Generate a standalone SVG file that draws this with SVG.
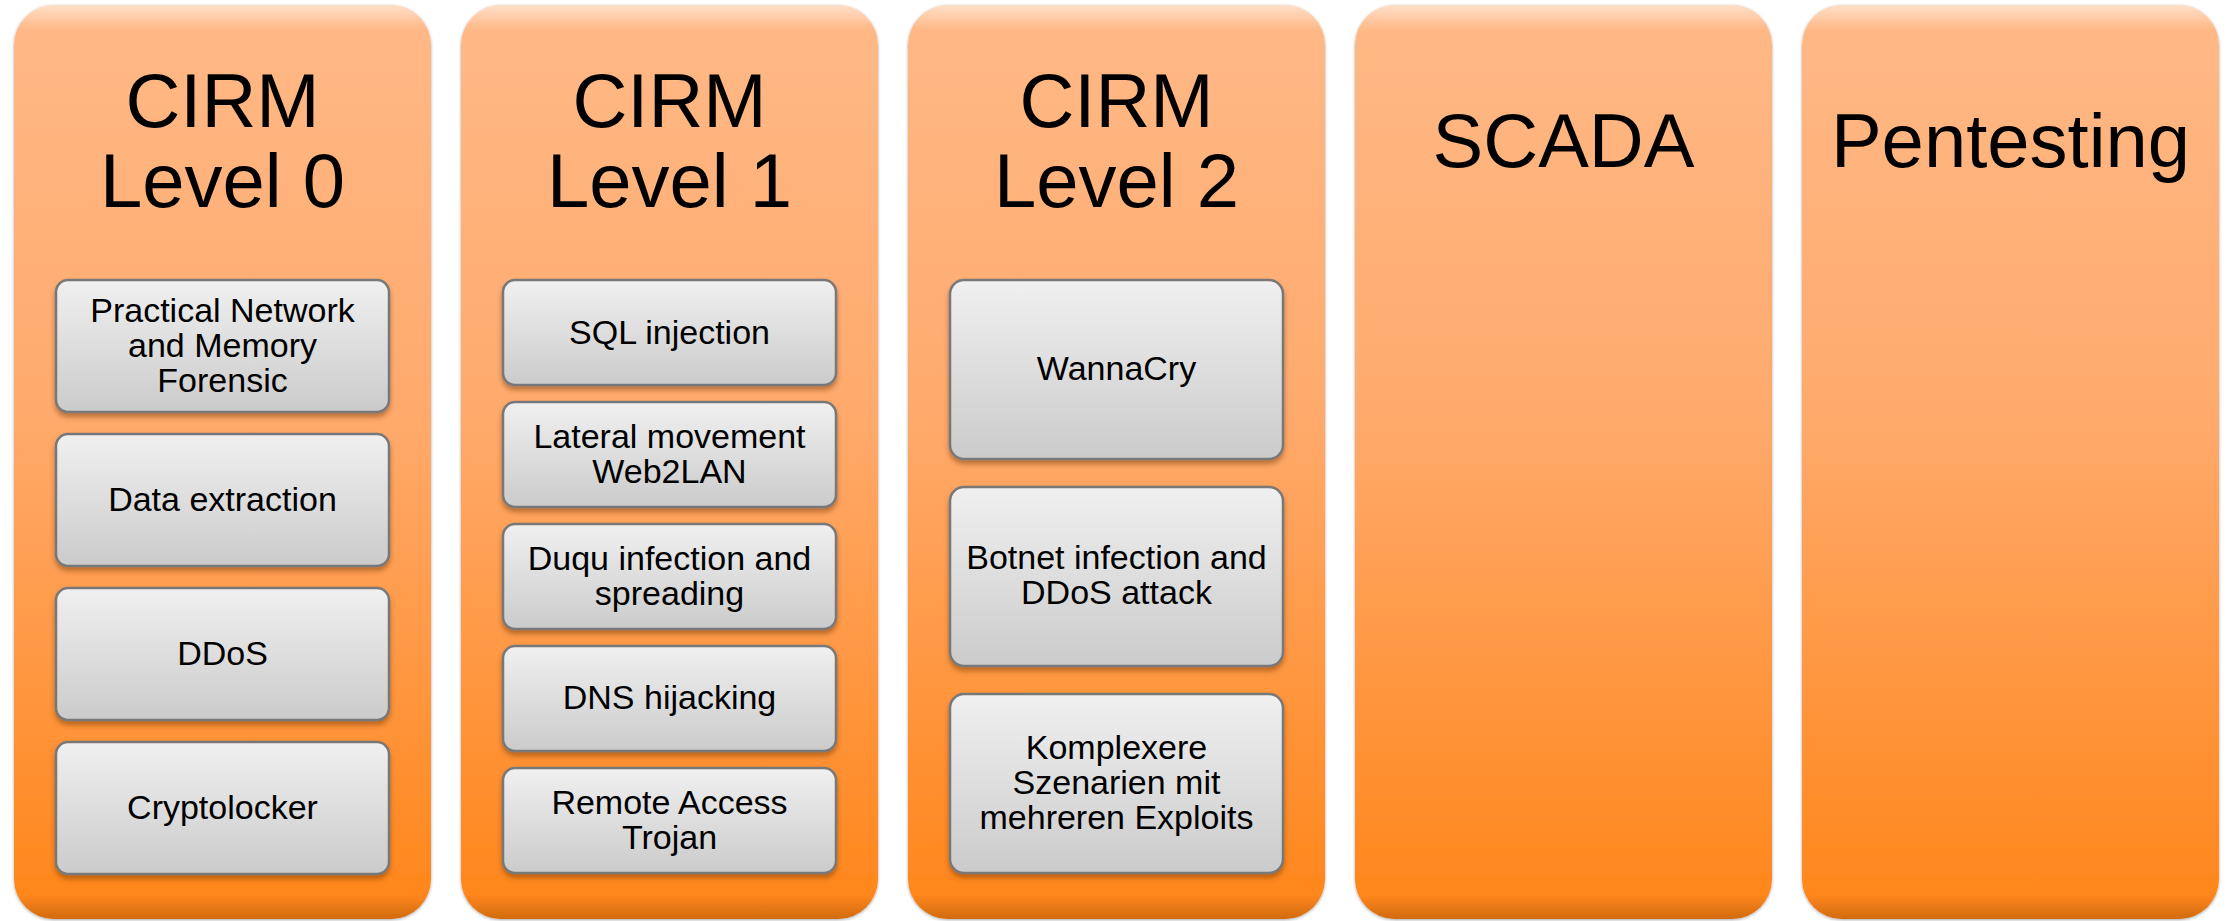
<svg xmlns="http://www.w3.org/2000/svg" width="2233" height="921" viewBox="0 0 2233 921">
  <defs>
    <linearGradient id="colFill" x1="0" y1="0" x2="0" y2="1">
      <stop offset="0" stop-color="#FFB987"/>
      <stop offset="0.45" stop-color="#FFAA6C"/>
      <stop offset="1" stop-color="#FF8518"/>
    </linearGradient>
    <!-- top bevel highlight, shared by all columns (same y range) -->
    <linearGradient id="colTop" gradientUnits="userSpaceOnUse" x1="0" y1="5" x2="0" y2="30">
      <stop offset="0" stop-color="#FFFFFF" stop-opacity="0.55"/>
      <stop offset="1" stop-color="#FFFFFF" stop-opacity="0"/>
    </linearGradient>
    <!-- bottom bevel shade -->
    <linearGradient id="colBottom" gradientUnits="userSpaceOnUse" x1="0" y1="895" x2="0" y2="919">
      <stop offset="0" stop-color="#7A3A00" stop-opacity="0"/>
      <stop offset="1" stop-color="#7A3A00" stop-opacity="0.35"/>
    </linearGradient>
    <linearGradient id="itemFill" x1="0" y1="0" x2="0" y2="1">
      <stop offset="0" stop-color="#F0F0F0"/>
      <stop offset="1" stop-color="#CBCBCB"/>
    </linearGradient>
    <filter id="colShadow" x="-5%" y="-2%" width="110%" height="104%">
      <feDropShadow dx="0" dy="1" stdDeviation="1.5" flood-color="#000000" flood-opacity="0.35"/>
    </filter>
    <filter id="itemShadow" x="-5%" y="-10%" width="110%" height="125%">
      <feDropShadow dx="0" dy="4" stdDeviation="2.5" flood-color="#6B3000" flood-opacity="0.45"/>
    </filter>
  </defs>
  <style>
    .col { fill: url(#colFill); filter: url(#colShadow); }
    .colTop { fill: url(#colTop); }
    .colBottom { fill: url(#colBottom); }
    .item { fill: url(#itemFill); stroke: #787878; stroke-width: 2.5; filter: url(#itemShadow); }
    .title { font-family: "Liberation Sans", Arial, sans-serif; font-size: 76px; fill: #000000; text-anchor: middle; }
    .label { font-family: "Liberation Sans", Arial, sans-serif; font-size: 34px; fill: #000000; text-anchor: middle; }
  </style>
  <rect width="2233" height="921" fill="#FFFFFF"/>

  <!-- Column: CIRM Level 0 -->
  <g id="cirm-level-0">
    <rect class="col" x="14" y="5" width="417" height="914" rx="40"/>
    <rect class="colTop" x="14" y="5" width="417" height="914" rx="40"/>
    <rect class="colBottom" x="14" y="5" width="417" height="914" rx="40"/>
    <text class="title" x="222.5" y="127">CIRM</text>
    <text class="title" x="222.5" y="207">Level 0</text>
  </g>
  <g id="l0-forensic">
    <rect class="item" x="56" y="280" width="333" height="132" rx="12"/>
    <text class="label" x="222.5" y="322">Practical Network</text>
    <text class="label" x="222.5" y="357">and Memory</text>
    <text class="label" x="222.5" y="392">Forensic</text>
  </g>
  <g id="l0-data-extraction">
    <rect class="item" x="56" y="434" width="333" height="132" rx="12"/>
    <text class="label" x="222.5" y="511">Data extraction</text>
  </g>
  <g id="l0-ddos">
    <rect class="item" x="56" y="588" width="333" height="132" rx="12"/>
    <text class="label" x="222.5" y="665">DDoS</text>
  </g>
  <g id="l0-cryptolocker">
    <rect class="item" x="56" y="742" width="333" height="132" rx="12"/>
    <text class="label" x="222.5" y="819">Cryptolocker</text>
  </g>

  <!-- Column: CIRM Level 1 -->
  <g id="cirm-level-1">
    <rect class="col" x="461" y="5" width="417" height="914" rx="40"/>
    <rect class="colTop" x="461" y="5" width="417" height="914" rx="40"/>
    <rect class="colBottom" x="461" y="5" width="417" height="914" rx="40"/>
    <text class="title" x="669.5" y="127">CIRM</text>
    <text class="title" x="669.5" y="207">Level 1</text>
  </g>
  <g id="l1-sql-injection">
    <rect class="item" x="503" y="280" width="333" height="105" rx="12"/>
    <text class="label" x="669.5" y="344">SQL injection</text>
  </g>
  <g id="l1-lateral-movement">
    <rect class="item" x="503" y="402" width="333" height="105" rx="12"/>
    <text class="label" x="669.5" y="448">Lateral movement</text>
    <text class="label" x="669.5" y="483">Web2LAN</text>
  </g>
  <g id="l1-duqu">
    <rect class="item" x="503" y="524" width="333" height="105" rx="12"/>
    <text class="label" x="669.5" y="570">Duqu infection and</text>
    <text class="label" x="669.5" y="605">spreading</text>
  </g>
  <g id="l1-dns-hijacking">
    <rect class="item" x="503" y="646" width="333" height="105" rx="12"/>
    <text class="label" x="669.5" y="709">DNS hijacking</text>
  </g>
  <g id="l1-rat">
    <rect class="item" x="503" y="768" width="333" height="105" rx="12"/>
    <text class="label" x="669.5" y="814">Remote Access</text>
    <text class="label" x="669.5" y="849">Trojan</text>
  </g>

  <!-- Column: CIRM Level 2 -->
  <g id="cirm-level-2">
    <rect class="col" x="908" y="5" width="417" height="914" rx="40"/>
    <rect class="colTop" x="908" y="5" width="417" height="914" rx="40"/>
    <rect class="colBottom" x="908" y="5" width="417" height="914" rx="40"/>
    <text class="title" x="1116.5" y="127">CIRM</text>
    <text class="title" x="1116.5" y="207">Level 2</text>
  </g>
  <g id="l2-wannacry">
    <rect class="item" x="950" y="280" width="333" height="179" rx="14"/>
    <text class="label" x="1116.5" y="380">WannaCry</text>
  </g>
  <g id="l2-botnet">
    <rect class="item" x="950" y="487" width="333" height="179" rx="14"/>
    <text class="label" x="1116.5" y="569">Botnet infection and</text>
    <text class="label" x="1116.5" y="604">DDoS attack</text>
  </g>
  <g id="l2-complex">
    <rect class="item" x="950" y="694" width="333" height="179" rx="14"/>
    <text class="label" x="1116.5" y="759">Komplexere</text>
    <text class="label" x="1116.5" y="794">Szenarien mit</text>
    <text class="label" x="1116.5" y="829">mehreren Exploits</text>
  </g>

  <!-- Column: SCADA -->
  <g id="scada">
    <rect class="col" x="1355" y="5" width="417" height="914" rx="40"/>
    <rect class="colTop" x="1355" y="5" width="417" height="914" rx="40"/>
    <rect class="colBottom" x="1355" y="5" width="417" height="914" rx="40"/>
    <text class="title" x="1563.5" y="167">SCADA</text>
  </g>

  <!-- Column: Pentesting -->
  <g id="pentesting">
    <rect class="col" x="1802" y="5" width="417" height="914" rx="40"/>
    <rect class="colTop" x="1802" y="5" width="417" height="914" rx="40"/>
    <rect class="colBottom" x="1802" y="5" width="417" height="914" rx="40"/>
    <text class="title" x="2010.5" y="167">Pentesting</text>
  </g>
</svg>
